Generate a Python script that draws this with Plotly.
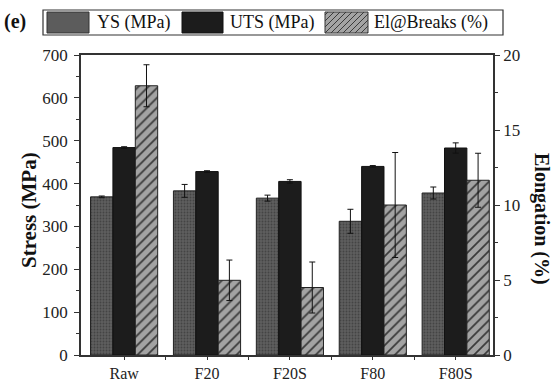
import plotly.graph_objects as go

categories = ["Raw", "F20", "F20S", "F80", "F80S"]
ys_vals = [369, 383, 366, 312, 378]
ys_err = [2, 15, 7, 28, 14]
uts_vals = [484, 428, 405, 440, 483]
uts_err = [2, 2, 4, 2, 12]
el_vals = [17.95, 4.98, 4.5, 10.0, 11.65]
el_err = [1.4, 1.35, 1.7, 3.5, 1.8]

xi = list(range(len(categories)))
FONT = "Liberation Serif"
W = 0.27

def F(size, color="#222"):
    return dict(family=FONT, size=size, color=color)

fig = go.Figure()
err_style = dict(type="data", thickness=1, width=3, color="#111")
fig.add_trace(go.Bar(x=xi, y=ys_vals, error_y=dict(array=ys_err, **err_style),
                     width=W, offset=-1.5 * W, name="YS (MPa)",
                     marker=dict(color="#5c5c5c", line=dict(color="#222", width=1),
                                 pattern=dict(shape=".", fgcolor="#444", bgcolor="#5e5e5e", size=3, solidity=0.3)),
                     showlegend=False))
fig.add_trace(go.Bar(x=xi, y=uts_vals, error_y=dict(array=uts_err, **err_style),
                     width=W, offset=-0.5 * W, name="UTS (MPa)",
                     marker=dict(color="#1c1c1c", line=dict(color="#111", width=1)),
                     showlegend=False))
fig.add_trace(go.Bar(x=xi, y=el_vals, error_y=dict(array=el_err, **err_style),
                     width=W, offset=0.5 * W, name="El@Breaks (%)", yaxis="y2",
                     marker=dict(color="#a0a0a0", line=dict(color="#222", width=1),
                                 pattern=dict(shape="/", fgcolor="#3a3a3a", bgcolor="#a3a3a3", size=7, solidity=0.25)),
                     showlegend=False))

axcol = "#333"
fig.update_layout(
    template="none",
    width=557, height=382,
    margin=dict(l=81, r=64, t=55, b=27, pad=0),
    paper_bgcolor="white", plot_bgcolor="white",
    barmode="overlay",
    font=F(16),
    xaxis=dict(range=[-0.52, 4.45], tickvals=xi, ticktext=categories,
               showline=True, linecolor=axcol, linewidth=1.5, mirror=True,
               ticks="outside", ticklen=3, tickcolor=axcol, showgrid=False, zeroline=False,
               minor=dict(tickvals=[0.5, 1.5, 2.5, 3.5], ticks="outside", ticklen=3, tickcolor=axcol, showgrid=False),
               tickfont=F(16), automargin=False),
    yaxis=dict(range=[0, 700], dtick=100, showline=True, linecolor=axcol, linewidth=1.5,
               mirror=True, ticks="outside", ticklen=5, tickcolor=axcol, showgrid=False, zeroline=False,
               minor=dict(dtick=50, ticks="outside", ticklen=3, tickcolor=axcol, showgrid=False),
               tickfont=F(17), ticklabelstandoff=3, automargin=False),
    yaxis2=dict(range=[0, 20], dtick=5, overlaying="y", side="right", showline=True,
                linecolor=axcol, linewidth=1.5, ticks="outside", ticklen=5, tickcolor=axcol,
                showgrid=False, zeroline=False,
                minor=dict(dtick=2.5, ticks="outside", ticklen=3, tickcolor=axcol, showgrid=False),
                tickfont=F(17), automargin=False),
)

fig.add_annotation(text="<b>Stress (MPa)</b>", xref="paper", yref="paper", x=0.0, y=0.5,
                   xanchor="center", yanchor="middle", yshift=-5,
                   xshift=-52, textangle=-90, showarrow=False, font=F(21, "#111"))
fig.add_annotation(text="<b>Elongation (%)</b>", xref="paper", yref="paper", x=1.0, y=0.5,
                   xanchor="center", yanchor="middle", yshift=-14,
                   xshift=49, textangle=90, showarrow=False, font=F(20, "#111"))

# Legend drawn manually in pixel-like paper coordinates
pw = 557 - 81 - 64
ph = 382 - 55 - 27
def px(x):
    return (x - 81) / pw
def py(y):
    return (382 - 27 - y) / ph

fig.add_shape(type="rect", xref="paper", yref="paper", x0=px(43), x1=px(503), y0=py(35), y1=py(10),
              line=dict(color="#333", width=1.2), fillcolor="white")
fig.add_shape(type="rect", xref="paper", yref="paper", x0=px(47), x1=px(89), y0=py(33), y1=py(12),
              line=dict(color="#333", width=1), fillcolor="#5c5c5c")
fig.add_shape(type="rect", xref="paper", yref="paper", x0=px(182), x1=px(223), y0=py(33), y1=py(12),
              line=dict(color="#111", width=1), fillcolor="#1c1c1c")
fig.add_shape(type="rect", xref="paper", yref="paper", x0=px(325), x1=px(368), y0=py(33), y1=py(12),
              line=dict(color="#333", width=1), fillcolor="#a3a3a3")
# hatch lines for El swatch
for k in range(-4, 9):
    xa = 325 + k * 6
    xb = xa + 21
    ya, yb = 33, 12
    x0c, y0c, x1c, y1c = xa, ya, xb, yb
    if x0c < 325:
        y0c = ya - (325 - x0c); x0c = 325
    if x1c > 368:
        y1c = yb + (x1c - 368); x1c = 368
    if x1c <= x0c:
        continue
    fig.add_shape(type="line", xref="paper", yref="paper", x0=px(x0c), y0=py(y0c), x1=px(x1c), y1=py(y1c),
                  line=dict(color="#3a3a3a", width=1))

for txt, x in [("YS (MPa)", 95), ("UTS (MPa)", 228), ("El@Breaks (%)", 372)]:
    fig.add_annotation(text=txt, xref="paper", yref="paper", x=px(x), y=py(22.5), xanchor="left",
                       yanchor="middle", showarrow=False, font=F(18, "#111"))
fig.add_annotation(text="<b>(e)</b>", xref="paper", yref="paper", x=px(2), y=py(22), xanchor="left",
                   yanchor="middle", showarrow=False, font=F(20, "#111"))

fig.write_html("out.html", config={"displayModeBar": False},
               post_script="document.body.style.margin='0';document.body.style.overflow='hidden';")
